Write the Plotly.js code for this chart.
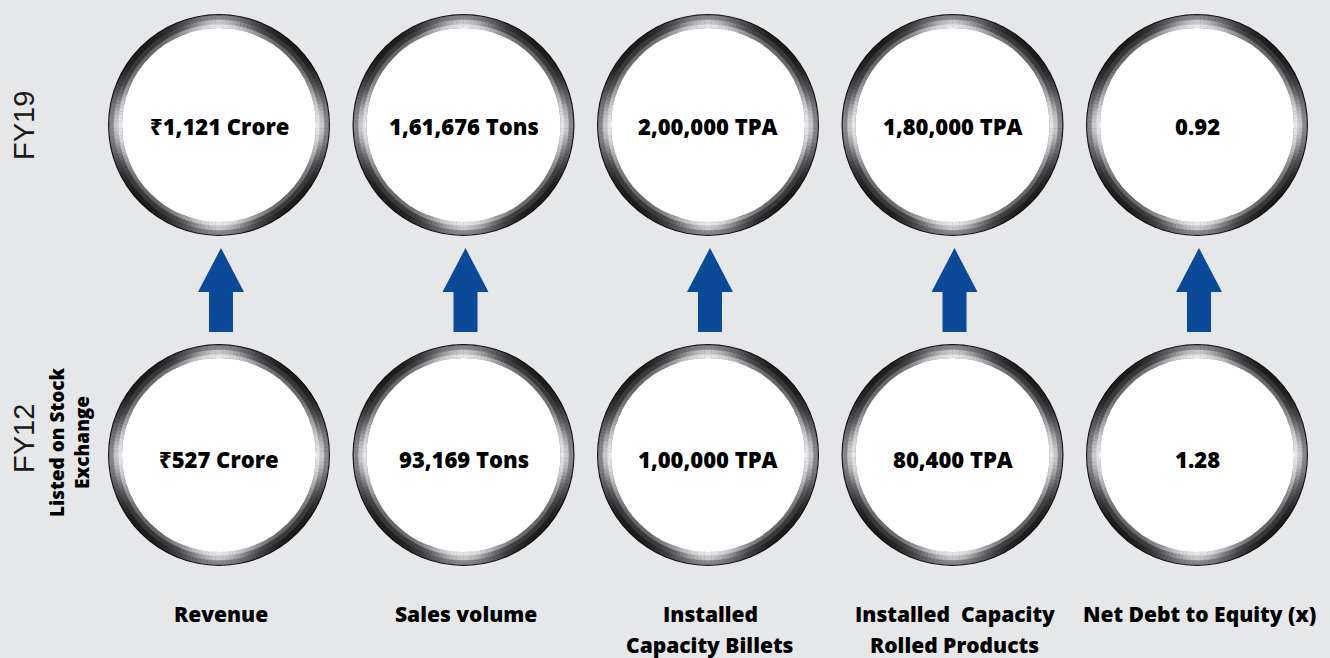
<!DOCTYPE html>
<html>
<head>
<meta charset="utf-8">
<script src="https://cdn.plot.ly/plotly-3.0.1.min.js"></script>
<style>
  html, body { margin: 0; padding: 0; background: #e6e7e9; }
  #chart { width: 1330px; height: 658px; }
</style>
</head>
<body>
<div id="chart"></div>
<script>
// metrics shown in each column
const metrics = ['Revenue', 'Sales volume', 'Installed<br>Capacity Billets',
                 'Installed  Capacity<br>Rolled Products', 'Net Debt to Equity (x)'];
const fy19Values = ['₹1,121 Crore', '1,61,676 Tons', '2,00,000 TPA', '1,80,000 TPA', '0.92'];
const fy12Values = ['₹527 Crore', '93,169 Tons', '1,00,000 TPA', '80,400 TPA', '1.28'];
const rowLabels = ['FY19', 'FY12'];
const rowNote = 'Listed on Stock<br>Exchange';

// layout constants (pixel axes)
const W = 1330, H = 658;
const colX0 = 219, colStep = 244.5;
const rowY = [125, 455];
const rOuter = 111, rInner = 97;
const blue = '#0a4a98';

function colX(i) { return colX0 + i * colStep; }

let shapes = [];
let annotations = [];

// base dark disc for each ring
const centers = [];
for (let r = 0; r < rowY.length; r++) {
    for (let i = 0; i < metrics.length; i++) {
        centers.push([colX(i), rowY[r]]);
    }
}
centers.forEach(function(c) {
    shapes.push({type: 'circle', xref: 'x', yref: 'y',
        x0: c[0] - rOuter, x1: c[0] + rOuter, y0: c[1] - rOuter, y1: c[1] + rOuter,
        fillcolor: '#0c0c0c', line: {width: 0}, layer: 'below'});
});

// metallic bands: brightness peaks at top/bottom/left/right
function mix(a, b, t) {
    return 'rgb(' + [0, 1, 2].map(function(k) {
        return Math.round(a[k] + (b[k] - a[k]) * t);
    }).join(',') + ')';
}
const bands = [
    {r0: 105, r1: 109.6, dark: [30, 30, 32], light: [135, 135, 140], p: 3},
    {r0: 100.5, r1: 105, dark: [58, 58, 60], light: [200, 200, 204], p: 5},
    {r0: 97, r1: 100.5, dark: [105, 105, 108], light: [230, 230, 234], p: 3}
];
const nSeg = 180;
bands.forEach(function(b) {
    for (let s = 0; s < nSeg; s++) {
        let a0 = 2 * Math.PI * s / nSeg;
        let a1 = 2 * Math.PI * (s + 1) / nSeg;
        let am = (a0 + a1) / 2;
        let t = Math.pow(Math.abs(Math.cos(2 * am)), b.p);
        let col = mix(b.dark, b.light, t);
        let path = '';
        centers.forEach(function(c) {
            let pts = [
                [c[0] + b.r0 * Math.cos(a0), c[1] + b.r0 * Math.sin(a0)],
                [c[0] + b.r1 * Math.cos(a0), c[1] + b.r1 * Math.sin(a0)],
                [c[0] + b.r1 * Math.cos(a1), c[1] + b.r1 * Math.sin(a1)],
                [c[0] + b.r0 * Math.cos(a1), c[1] + b.r0 * Math.sin(a1)]
            ];
            path += 'M' + pts.map(function(p) { return p[0].toFixed(2) + ',' + p[1].toFixed(2); }).join('L') + 'Z';
        });
        shapes.push({type: 'path', xref: 'x', yref: 'y', path: path,
            fillcolor: col, line: {color: col, width: 0.5}, layer: 'below'});
    }
});

// white faces
centers.forEach(function(c) {
    shapes.push({type: 'circle', xref: 'x', yref: 'y',
        x0: c[0] - rInner, x1: c[0] + rInner, y0: c[1] - rInner, y1: c[1] + rInner,
        fillcolor: '#ffffff', line: {width: 0}, layer: 'below'});
});

// up arrows between the rows
for (let i = 0; i < metrics.length; i++) {
    let x = colX(i) + 2;
    let p = [[x, 248], [x + 23, 292], [x + 12, 292], [x + 12, 332],
             [x - 12, 332], [x - 12, 292], [x - 23, 292]];
    shapes.push({type: 'path', xref: 'x', yref: 'y',
        path: 'M' + p.map(function(q) { return q[0] + ',' + q[1]; }).join('L') + 'Z',
        fillcolor: blue, line: {width: 0}});
}

const boldFont = {family: '"Open Sans", "Noto Sans", "DejaVu Sans", sans-serif', size: 21, color: '#000000', weight: 800};

// values in the circles
function addValues(vals, y) {
    vals.forEach(function(v, i) {
        annotations.push({x: colX(i), y: y, xref: 'x', yref: 'y', text: v, showarrow: false,
            xanchor: 'center', yanchor: 'middle',
            font: Object.assign({}, boldFont, {size: 22})});
    });
}
addValues(fy19Values, 126);
addValues(fy12Values, 459);

// metric labels under the columns
metrics.forEach(function(m, i) {
    m.split('<br>').forEach(function(line, k) {
        annotations.push({x: colX(i) + 2, y: 614 + k * 31, xref: 'x', yref: 'y', text: line, showarrow: false,
            xanchor: 'center', yanchor: 'middle', font: boldFont});
    });
});

// row labels on the left
const rowFont = {family: '"Liberation Sans", Arial, sans-serif', size: 29, color: '#1a1a1a'};
annotations.push({x: 24, y: 126, xref: 'x', yref: 'y', text: rowLabels[0], textangle: -90,
    showarrow: false, xanchor: 'center', yanchor: 'middle', font: rowFont});
annotations.push({x: 24, y: 439, xref: 'x', yref: 'y', text: rowLabels[1], textangle: -90,
    showarrow: false, xanchor: 'center', yanchor: 'middle', font: rowFont});
annotations.push({x: 69, y: 442, xref: 'x', yref: 'y', text: rowNote, textangle: -90,
    showarrow: false, xanchor: 'center', yanchor: 'middle',
    font: Object.assign({}, boldFont, {size: 19})});

let layout = {
    width: W, height: H,
    margin: {l: 0, r: 0, t: 0, b: 0},
    paper_bgcolor: '#e6e7e9', plot_bgcolor: '#e6e7e9',
    xaxis: {range: [0, W], visible: false, fixedrange: true},
    yaxis: {range: [H, 0], visible: false, fixedrange: true},
    showlegend: false,
    shapes: shapes,
    annotations: annotations
};

Plotly.newPlot('chart', [], layout, {staticPlot: true});
</script>
</body>
</html>
